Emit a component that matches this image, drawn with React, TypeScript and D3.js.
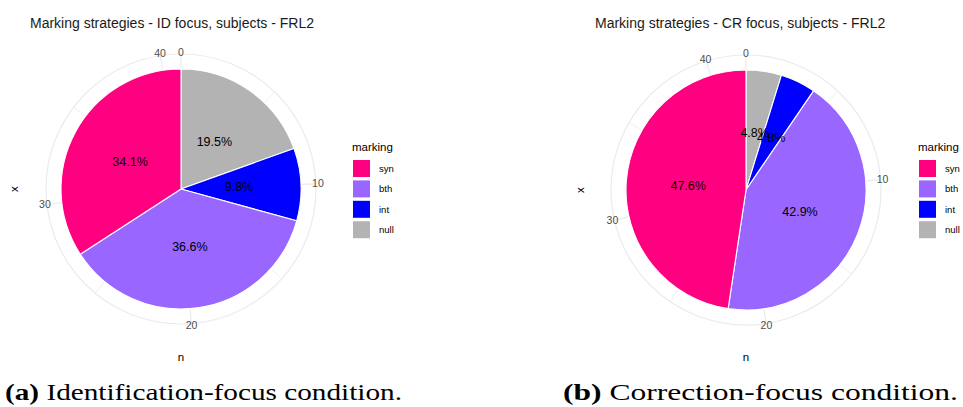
import React, { useEffect, useRef } from 'react';
import * as d3 from 'd3';

// legend order (top to bottom)
const categories = ['syn', 'bth', 'int', 'null'];
const categoryColors = ['#FF0080', '#9966FF', '#0000FF', '#B3B3B3'];

// counts per category, same order as categories
const idCounts = [14, 15, 4, 8];
const crCounts = [20, 18, 2, 2];

const thetaMajor = [0, 10, 20, 30, 40];
const thetaMinor = [5, 15, 25, 35];

const titles = [
  'Marking strategies - ID focus, subjects - FRL2',
  'Marking strategies - CR focus, subjects - FRL2'
];
const captionTags = ['(a)', '(b)'];
const captionTexts = [' Identification-focus condition.', ' Correction-focus condition.'];

const W = 963;
const H = 407;
const SANS = '"Liberation Sans", Arial, Helvetica, sans-serif';

const App: React.FC = () => {
  const svgRef = useRef<SVGSVGElement>(null);

  useEffect(() => {
    if (!svgRef.current) return;
    const svg = d3.select(svgRef.current);
    svg.selectAll('*').remove();

    svg.append('rect').attr('width', W).attr('height', H).attr('fill', '#ffffff');

    const panels = [
      { counts: idCounts, cx: 181, cy: 189, titleX: 30, legendX: 352, yLabX: 14, capX: 5, capW: 397 },
      { counts: crCounts, cx: 746, cy: 190, titleX: 595, legendX: 918, yLabX: 580, capX: 563, capW: 395 }
    ];

    const pieR = 120;
    const gridR = 135;
    const tickLabR = 137;
    const textR = 58;

    const colorOf = d3.scaleOrdinal<string, string>().domain(categories).range(categoryColors);

    panels.forEach((p, idx) => {
      const total = d3.sum(p.counts);
      // clockwise from 12 o'clock: null, int, bth, syn
      const drawOrder = [...categories].reverse();
      const data = drawOrder.map(c => ({ key: c, value: p.counts[categories.indexOf(c)] }));

      const theta = d3.scaleLinear().domain([0, total]).range([0, 2 * Math.PI]);

      const g = svg.append('g').attr('transform', `translate(${p.cx},${p.cy})`);

      // grid: minor + major spokes, outer circle
      thetaMinor.forEach(t => {
        const a = theta(t);
        g.append('line')
          .attr('x1', 0).attr('y1', 0)
          .attr('x2', gridR * Math.sin(a)).attr('y2', -gridR * Math.cos(a))
          .attr('stroke', '#EBEBEB').attr('stroke-width', 0.8);
      });
      thetaMajor.forEach(t => {
        const a = theta(t);
        g.append('line')
          .attr('x1', 0).attr('y1', 0)
          .attr('x2', gridR * Math.sin(a)).attr('y2', -gridR * Math.cos(a))
          .attr('stroke', '#EBEBEB').attr('stroke-width', 1.2);
      });
      g.append('circle')
        .attr('r', gridR)
        .attr('fill', 'none')
        .attr('stroke', '#EBEBEB')
        .attr('stroke-width', 1.2);

      // slices
      const pie = d3.pie<{ key: string; value: number }>()
        .sort(null)
        .value(d => d.value)
        .startAngle(0)
        .endAngle(2 * Math.PI);
      const arcs = pie(data);
      const arc = d3.arc<d3.PieArcDatum<{ key: string; value: number }>>()
        .innerRadius(0)
        .outerRadius(pieR);

      g.selectAll('.slice')
        .data(arcs)
        .enter()
        .append('path')
        .attr('class', 'slice')
        .attr('d', arc)
        .attr('fill', d => colorOf(d.data.key))
        .attr('stroke', '#ffffff')
        .attr('stroke-width', 1.1);

      // percent labels (overlap on the small slices as in the original)
      g.selectAll('.pct')
        .data(arcs)
        .enter()
        .append('text')
        .attr('x', d => textR * Math.sin((d.startAngle + d.endAngle) / 2))
        .attr('y', d => -textR * Math.cos((d.startAngle + d.endAngle) / 2))
        .attr('dy', '0.35em')
        .attr('text-anchor', 'middle')
        .style('font-family', SANS)
        .style('font-size', '12.5px')
        .style('fill', '#000000')
        .text(d => `${((d.data.value / total) * 100).toFixed(1)}%`);

      // theta tick labels
      thetaMajor.forEach(t => {
        const a = theta(t);
        g.append('text')
          .attr('x', tickLabR * Math.sin(a))
          .attr('y', -tickLabR * Math.cos(a))
          .attr('dy', '0.35em')
          .attr('text-anchor', 'middle')
          .style('font-family', SANS)
          .style('font-size', '10.5px')
          .style('fill', '#4D4D4D')
          .text(String(t));
      });

      // title
      svg.append('text')
        .attr('x', p.titleX)
        .attr('y', 28)
        .style('font-family', SANS)
        .style('font-size', '14px')
        .style('fill', '#1A1A1A')
        .text(titles[idx]);

      // axis titles
      svg.append('text')
        .attr('transform', `translate(${p.yLabX},${p.cy}) rotate(-90)`)
        .attr('text-anchor', 'middle')
        .attr('dy', '0.35em')
        .style('font-family', SANS)
        .style('font-size', '11.5px')
        .style('fill', '#000000')
        .text('x');
      svg.append('text')
        .attr('x', p.cx)
        .attr('y', 361)
        .attr('text-anchor', 'middle')
        .style('font-family', SANS)
        .style('font-size', '11.5px')
        .style('fill', '#000000')
        .text('n');

      // legend
      const lg = svg.append('g').attr('transform', `translate(${p.legendX},0)`);
      lg.append('text')
        .attr('x', 0)
        .attr('y', 151)
        .style('font-family', SANS)
        .style('font-size', '11.5px')
        .style('fill', '#000000')
        .text('marking');
      const rows = lg.selectAll('.key')
        .data(categories)
        .enter()
        .append('g')
        .attr('transform', (d, i) => `translate(1,${160 + i * 20.4})`);
      rows.append('rect')
        .attr('width', 17)
        .attr('height', 17)
        .attr('fill', d => colorOf(d));
      rows.append('text')
        .attr('x', 26)
        .attr('y', 8.5)
        .attr('dy', '0.35em')
        .style('font-family', SANS)
        .style('font-size', '9.5px')
        .style('fill', '#000000')
        .text(d => d);

      // caption
      const cap = svg.append('text')
        .attr('x', p.capX)
        .attr('y', 400)
        .attr('textLength', p.capW)
        .attr('lengthAdjust', 'spacingAndGlyphs')
        .style('font-family', '"Liberation Serif", "Times New Roman", serif')
        .style('font-size', '23px')
        .style('fill', '#000000');
      cap.append('tspan').style('font-weight', 'bold').text(captionTags[idx]);
      cap.append('tspan').text(captionTexts[idx]);
    });
  }, []);

  return (
    <svg
      ref={svgRef}
      width={W}
      height={H}
      style={{ position: 'absolute', left: 0, top: 0 }}
    />
  );
};

export default App;
